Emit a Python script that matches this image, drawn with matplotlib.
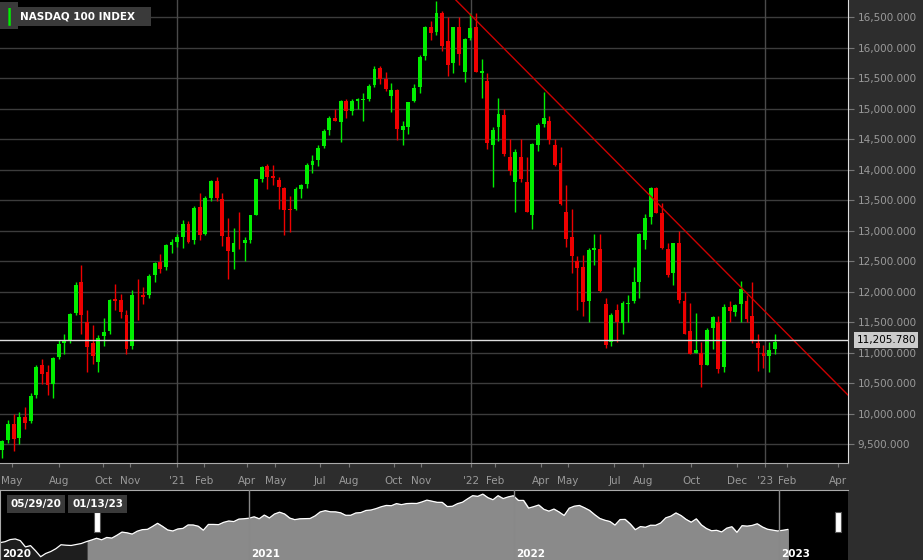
import matplotlib
matplotlib.use("Agg")
import matplotlib.pyplot as plt
import matplotlib.dates as mdates
import numpy as np
import datetime as dt

start = dt.date(2020, 5, 29)
opens = [9400,9560,9830,9600,9950,9870,10300,10800,10680,10480,10920,11150,11200,11650,12150,11500,11150,10850,11270,11350,11880,11860,11620,11100,11950,11950,11950,12270,12480,12400,12760,12820,
 12900,13100,12840,13380,12950,13540,13810,13520,12900,12650,12830,12800,12850,13260,13850,14050,13900,13830,13700,13340,13360,13680,13760,14080,14150,14380,14650,14850,14780,15120,14960,15130,15140,15150,15390,15660,15480,15200,15300,14650,14700,15120,15350,15860,16330,16250,16560,16100,15750,16340,15600,16160,
 16330,15580,15450,14400,14700,14900,14200,13800,14200,13800,13250,14400,14750,14800,14400,14100,13300,12900,12500,12400,11850,12680,12700,11800,11180,11700,11480,11800,11850,12150,12850,13220,13700,13280,12700,12300,12800,11850,11350,11000,11000,10800,11400,11500,10760,11750,11660,11800,11850,11600,11150,11000,10950,11050]
highs = [9560,9900,10000,10030,10110,10330,10800,10900,10800,10920,11200,11300,11650,12150,12440,11700,11450,11280,11570,11880,12130,11960,11700,12020,12200,12080,12280,12480,12610,12780,12860,12940,
 13180,13160,13410,13620,13560,13830,13880,13620,13200,13040,13300,12900,13260,13850,14060,14090,14070,13870,13720,13570,13720,13760,14100,14230,14400,14660,14880,15000,15140,15150,15160,15180,15250,15400,15700,15700,15600,15420,15320,14800,15110,15400,15870,16360,16430,16770,16600,16500,16340,16500,16160,16560,
 16570,15820,15590,14700,15180,14990,14500,14340,14500,14200,14430,14760,15270,14870,14500,14370,13750,13350,12580,12600,12710,12950,12950,11900,11640,11800,11850,11950,12400,12960,13270,13720,13720,13450,12800,12800,13000,12000,11820,11640,11180,11400,11600,11600,11800,11850,11800,12170,11950,12150,11300,11120,11180,11300]
lows = [9270,9520,9380,9500,9740,9840,10250,10480,10300,10250,10900,10980,11150,11620,11300,10680,10820,10680,11100,11300,11700,11570,10980,11050,11530,11800,11900,12150,12300,12350,12630,12730,
 12720,12800,12780,12850,12920,13480,13480,12750,12210,12370,12700,12500,12800,13250,13800,13680,13750,13350,12920,12970,13340,13540,13700,13950,14060,14360,14570,14790,14450,14850,14900,15000,14800,15120,15360,15400,15280,14950,14480,14400,14580,15100,15250,15800,16130,16200,15950,15530,15580,15710,15430,16120,
 15600,15170,14340,13720,14470,14220,13910,13300,13800,13300,13020,14300,14700,14420,14050,13420,12730,12300,11700,11600,11500,12430,12000,11070,11100,11180,11300,11500,11820,11900,12700,13100,13280,12700,12230,12100,11820,11310,10970,11000,10440,10800,11050,10670,10680,11500,11600,11500,11500,11150,10700,10750,10680,10980]
closes = [9555,9824,9588,9946,9849,10280,10767,10655,10461,10905,11139,11186,11627,12110,11622,11088,10938,11246,11334,11860,11852,11663,11052,11938,11937,11904,12258,12464,12375,12755,12805,12888,
 13105,12804,13367,12925,13525,13808,13532,12909,12669,12800,12821,12843,13248,13846,14041,13870,13860,13720,13333,13338,13686,13748,14069,14142,14360,14639,14840,14800,15119,14959,15123,15156,15143,15374,15653,15492,15317,15309,14672,14712,15106,15335,15850,16334,16230,16573,16025,15712,16331,15891,16147,16320,
 15604,15612,14436,14650,14907,14253,13968,14290,13838,13301,14420,14727,14838,14484,14078,13429,12855,12579,12387,11835,12681,12706,12015,11128,11608,11504,11814,11804,12157,12947,13206,13696,13291,12706,12274,12791,11861,11311,10971,11040,10790,11367,11587,10726,11748,11677,11785,12038,11551,11206,11073,10940,11040,11170]
pre_closes = [9000,9170,9200,9150,9300,9620,9720,9450,8500,8700,7900,7000,7500,7800,8230,8830,8760,8720,8870,9020,9310]
last_price = 11205.78
trend_dates = [dt.date(2021, 12, 13), dt.date(2023, 4, 14)]
trend_vals = [16779, 10303]
tick_dates = [dt.date(2020,6,10),dt.date(2020,8,7),dt.date(2020,10,1),dt.date(2020,11,4),dt.date(2021,1,1),dt.date(2021,2,3),dt.date(2021,3,29),dt.date(2021,5,3),dt.date(2021,6,27),dt.date(2021,8,2),dt.date(2021,9,27),dt.date(2021,10,31),dt.date(2022,1,1),dt.date(2022,1,31),dt.date(2022,3,29),dt.date(2022,5,1),dt.date(2022,6,28),dt.date(2022,8,2),dt.date(2022,10,1),dt.date(2022,11,27),dt.date(2023,1,1),dt.date(2023,1,28),dt.date(2023,4,1)]
tick_labels = ["May","Aug","Oct","Nov","'21","Feb","Apr","May","Jul","Aug","Oct","Nov","'22","Feb","Apr","May","Jul","Aug","Oct","Dec","'23","Feb","Apr"]

dates = [start + dt.timedelta(weeks=i) for i in range(len(closes))]
x = mdates.date2num(dates)
pre_dates = [start - dt.timedelta(weeks=len(pre_closes) - i) for i in range(len(pre_closes))]

W, H = 923, 560
fig = plt.figure(figsize=(W/100, H/100), dpi=100, facecolor="#2d2d2d")
ax = fig.add_axes([0, 1-463/H, 848/W, 463/H], facecolor="black")
ax.set_xlim(mdates.date2num(dt.date(2020,5,26)), mdates.date2num(dt.date(2023,4,14)))
ax.set_ylim(9189, 16779)
for y in range(9500, 16501, 500):
    ax.axhline(y, color="#3c3c3c", lw=1, zorder=0)
for yr in [2021, 2022, 2023]:
    ax.axvline(mdates.date2num(dt.date(yr,1,1)), color="#4a4a4a", lw=1, zorder=0)

for xi, o, h, l, c in zip(x, opens, highs, lows, closes):
    col = "#00ee00" if c >= o else "#ee0000"
    ax.vlines(xi, l, h, color=col, lw=1, zorder=2)
    ax.bar(xi, abs(c-o) if abs(c-o) > 8 else 8, bottom=min(o, c), width=4.8, color=col, zorder=3)

ax.plot(mdates.date2num(trend_dates), trend_vals, color="#cc0000", lw=1, zorder=4)
ax.axhline(last_price, color="#dddddd", lw=1, zorder=5)

ax.yaxis.tick_right()
ax.set_yticks(range(9500, 16501, 500))
ax.set_yticklabels([f"{v:,}.000" for v in range(9500, 16501, 500)], color="#9a9a9a", fontsize=7.5)
ax.set_xticks(mdates.date2num(tick_dates))
ax.set_xticklabels(tick_labels, color="#9a9a9a", fontsize=7.5)
ax.tick_params(axis="y", length=4, color="#777777", pad=3)
ax.tick_params(axis="x", length=3, color="#777777", pad=6)
for s in ax.spines.values():
    s.set_visible(False)
ax.spines["right"].set_visible(True); ax.spines["right"].set_color("#dddddd")
ax.spines["bottom"].set_visible(True); ax.spines["bottom"].set_color("#aaaaaa")
ax.annotate(f"{last_price:,.3f}", xy=(1, last_price), xycoords=("axes fraction", "data"),
            xytext=(6, 0), textcoords="offset points", va="center", ha="left", fontsize=7.5,
            color="black", bbox=dict(boxstyle="square,pad=0.25", fc="#cccccc", ec="none"))
ax.text(0.005, 0.985, "\u2503", transform=ax.transAxes, color="#00ee00", fontsize=11, va="top", ha="left",
        bbox=dict(boxstyle="square,pad=0.3", fc="#3a3a3a", ec="none"), zorder=6)
ax.text(0.024, 0.975, "NASDAQ 100 INDEX   ", transform=ax.transAxes, color="white", fontsize=7.5,
        fontweight="bold", va="top", ha="left",
        bbox=dict(boxstyle="square,pad=0.45", fc="#3a3a3a", ec="none"), zorder=6)

# navigator
nav = fig.add_axes([0, 0, 848/W, 70/H], facecolor="black")
nx0, nx1 = mdates.date2num(dt.date(2020,1,24)), mdates.date2num(dt.date(2023,4,6))
nav.set_xlim(nx0, nx1); nav.set_ylim(6500, 17200)
all_x = np.concatenate([mdates.date2num(pre_dates), x])
all_y = np.array(pre_closes + closes, dtype=float)
sel = all_x >= x[0] - 7
idx = np.arange(len(all_x))
nav.fill_between(all_x[sel], 6500, all_y[sel], color="#8a8a8a", zorder=1)
pre = ~sel | (idx == sel.argmax())
nav.fill_between(all_x[pre], 6500, all_y[pre], color="#1e1e1e", zorder=1)
nav.plot(all_x, all_y, color="white", lw=0.9, zorder=2)
for yr in [2021, 2022, 2023]:
    nav.axvline(mdates.date2num(dt.date(yr,1,1)), color="#888888", lw=1, zorder=3)
for yr in [2020, 2021, 2022, 2023]:
    xx = max(mdates.date2num(dt.date(yr,1,1)), nx0) + 3
    nav.text(xx, 6900, str(yr), color="white", fontsize=7.5, fontweight="bold", zorder=4)
nav.set_xticks([]); nav.set_yticks([])
for s in nav.spines.values():
    s.set_color("#aaaaaa")
nav.spines["right"].set_visible(False); nav.spines["bottom"].set_visible(False)
for hx in [97/848, 838/848]:
    nav.add_patch(plt.Rectangle((hx-0.003, 0.4), 0.006, 0.28, transform=nav.transAxes, fc="white", ec="#555555", lw=0.8, zorder=5))
nav.text(0.012, 0.80, "05/29/20", transform=nav.transAxes, color="white", fontsize=7.5, fontweight="bold", va="center",
         bbox=dict(boxstyle="square,pad=0.35", fc="#3a3a3a", ec="none"), zorder=6)
nav.text(0.085, 0.80, "01/13/23", transform=nav.transAxes, color="white", fontsize=7.5, fontweight="bold", va="center",
         bbox=dict(boxstyle="square,pad=0.35", fc="#3a3a3a", ec="none"), zorder=6)

fig.savefig("out.png", dpi=100, facecolor=fig.get_facecolor())
